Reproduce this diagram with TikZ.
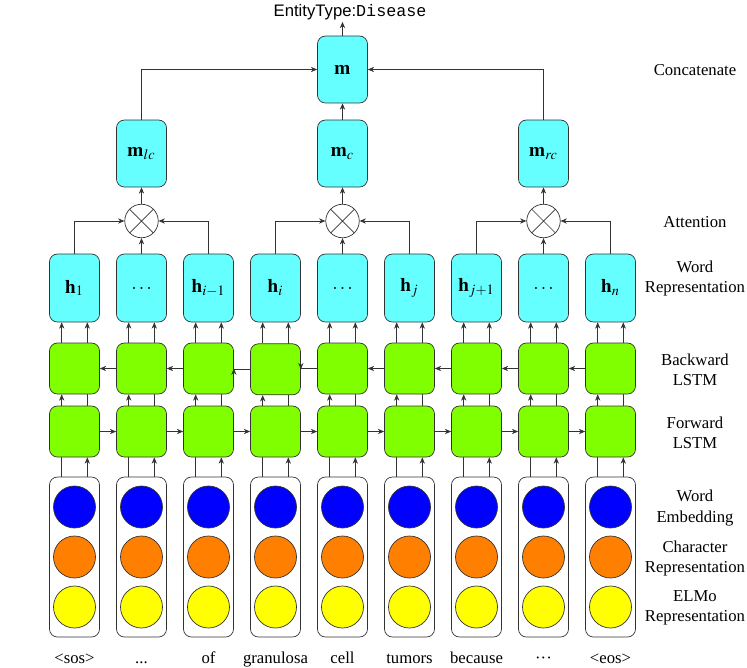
\documentclass[tikz,border=0pt]{standalone}
\usepackage{mathptmx}
\usepackage{fontspec}
\setmainfont{Liberation Serif}
\setsansfont{Liberation Sans}
\setmonofont{Liberation Mono}
\usetikzlibrary{arrows.meta, positioning, backgrounds}

\definecolor{repcyan}{HTML}{66FFFF}
\definecolor{lstmgreen}{HTML}{80FF00}
\definecolor{wordblue}{HTML}{0000FF}
\definecolor{charorange}{HTML}{FF8000}
\definecolor{elmoyellow}{HTML}{FFFF00}

\begin{document}
\begin{tikzpicture}[
  x=0.02cm, y=-0.02cm,
  hb/.style={draw=black!80, fill=repcyan, rounded corners=4.5pt,
             minimum width=1cm, minimum height=1.36cm, inner sep=0pt,
             font=\fontsize{11}{13}\selectfont},
  mb/.style={hb, minimum height=1.34cm},
  ls/.style={draw=black!80, fill=lstmgreen, rounded corners=4.5pt,
             minimum width=1cm, minimum height=1.02cm},
  eb/.style={draw=black!80, rounded corners=4.5pt,
             minimum width=1cm, minimum height=3.2cm},
  ec/.style={circle, draw=black!80, minimum size=0.84cm, inner sep=0pt},
  att/.style={circle, draw=black!80, fill=white, minimum size=0.67cm,
              inner sep=0pt,
              path picture={\draw[black!80]
                (path picture bounding box.north west) --
                (path picture bounding box.south east)
                (path picture bounding box.north east) --
                (path picture bounding box.south west);}},
  ar/.style={-{Stealth[length=3.6pt, width=3pt]}, draw=black!80},
  lbl/.style={font=\fontsize{9.5}{11.4}\selectfont, align=center}
]
\useasboundingbox (0,0) rectangle (747,667);

% One column per token
\foreach \k/\hl/\tok in {1/{$\mathbf{h}_1$}/{<sos>}, 2/{$\ldots$}/{...},
    3/{$\mathbf{h}_{i-1}$}/{of}, 4/{$\mathbf{h}_i$}/{granulosa},
    5/{$\ldots$}/{cell}, 6/{$\mathbf{h}_j$}/{tumors},
    7/{$\mathbf{h}_{j+1}$}/{because}, 8/{$\ldots$}/{···},
    9/{$\mathbf{h}_n$}/{<eos>}} {
  \pgfmathsetmacro\cx{74.5+67*(\k-1)}
  \pgfmathsetmacro\by{\k==4 ? 369.3 : 368.5}
  \node[hb] (h\k) at (\cx,288) {\hl};
  \node[ls] (b\k) at (\cx,\by) {};
  \node[ls] (f\k) at (\cx,431.5) {};
  \node[eb] (e\k) at (\cx,557) {};
  \node[ec, fill=wordblue]   (we\k) at (\cx,507) {};
  \node[ec, fill=charorange] (ce\k) at (\cx,557) {};
  \node[ec, fill=elmoyellow] (el\k) at (\cx,607) {};
  \node[lbl, anchor=base] (w\k) at (\cx,663) {\tok};
}

% Vertical feeds, drawn behind the boxes
\begin{scope}[on background layer]
\foreach \k in {1,...,9} {
  \draw[ar] ([xshift=-0.256cm]e\k.north) -- ([xshift=-0.256cm]b\k.south);
  \draw[ar] ([xshift=0.256cm]e\k.north) -- ([xshift=0.256cm]f\k.south);
  \draw[ar] ([xshift=-0.256cm]b\k.north) -- ([xshift=-0.256cm]h\k.south);
  \draw[ar] ([xshift=0.256cm]f\k.north) -- ([xshift=0.256cm]h\k.south);
}
\end{scope}

% Forward and backward LSTM chains
\foreach \k [evaluate=\k as \n using int(\k+1)] in {1,...,8}
  \draw[ar] (f\k.east) -- (f\n.west);
\foreach \k [evaluate=\k as \n using int(\k+1)] in {1,2,5,6,7,8}
  \draw[ar] (b\n.west) -- (b\k.east);
\draw[ar] (b5.west) -| (b4.east);
\draw[ar] (b4.west) -| (b3.east);

% Attention over the three spans
\node[att] (a1) at (141.5,221) {};
\node[att] (a2) at (342.5,221) {};
\node[att] (a3) at (543.5,221) {};
\draw[ar] (h1.north) |- (a1.west);
\draw[ar] (h2.north) -- (a1.south);
\draw[ar] (h3.north) |- (a1.east);
\draw[ar] (h4.north) |- (a2.west);
\draw[ar] (h5.north) -- (a2.south);
\draw[ar] (h6.north) |- (a2.east);
\draw[ar] (h7.north) |- (a3.west);
\draw[ar] (h8.north) -- (a3.south);
\draw[ar] (h9.north) |- (a3.east);

% Span vectors and concatenation
\node[mb] (mlc) at (141.5,153.5) {$\mathbf{m}_{lc}$};
\node[mb] (mc)  at (342.5,153.5) {$\mathbf{m}_c$};
\node[mb] (mrc) at (543.5,153.5) {$\mathbf{m}_{rc}$};
\node[mb] (m)   at (342.5,69.5)  {$\mathbf{m}$};
\draw[ar] (a1.north) -- (mlc.south);
\draw[ar] (a2.north) -- (mc.south);
\draw[ar] (a3.north) -- (mrc.south);
\draw[ar] (mlc.north) |- (m.west);
\draw[ar] (mc.north) -- (m.south);
\draw[ar] (mrc.north) |- (m.east);

\node[font=\fontsize{9.5}{11}\selectfont, inner sep=1pt] (ent) at (350,12)
  {\sffamily EntityType:\ttfamily Disease};
\draw[ar] (m.north) -- (m.north |- ent.south);

% Layer names
\node[lbl] (lcat) at (695,70)  {Concatenate};
\node[lbl] (latt) at (695,222) {Attention};
\node[lbl] (lwr)  at (695,278) {Word\\Representation};
\node[lbl] (lbw)  at (695,370) {Backward\\LSTM};
\node[lbl] (lfw)  at (695,433) {Forward\\LSTM};
\node[lbl] (lwe)  at (695,508) {Word\\Embedding};
\node[lbl] (lch)  at (695,558) {Character\\Representation};
\node[lbl] (lel)  at (695,608) {ELMo\\Representation};
\end{tikzpicture}
\end{document}
